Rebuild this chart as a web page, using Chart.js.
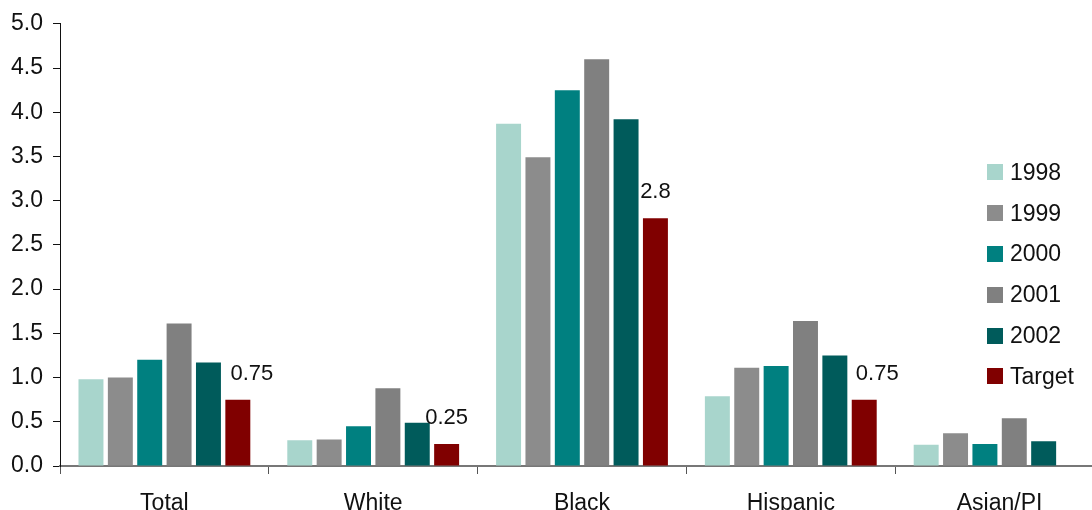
<!DOCTYPE html>
<html>
<head>
<meta charset="utf-8">
<script src="https://cdn.jsdelivr.net/npm/chart.js@4/dist/chart.umd.min.js"></script>
<style>
  html, body { margin: 0; padding: 0; overflow: hidden; background: #fff; }
  #wrap { position: relative; width: 1092px; height: 510px; overflow: hidden; }
  #legend { position: absolute; left: 987px; top: 152px; font-family: "Liberation Sans", Arial, sans-serif; font-size: 23px; color: #111; }
  #legend div { height: 40.8px; display: flex; align-items: center; }
  #legend span.box { display: inline-block; width: 16px; height: 16px; margin-right: 7px; }
</style>
</head>
<body>
<div id="wrap">
  <canvas id="chart" width="1104" height="510"></canvas>
  <div id="legend"></div>
</div>
<script>
var categories = ['Total', 'White', 'Black', 'Hispanic', 'Asian/PI'];
var seriesNames = ['1998', '1999', '2000', '2001', '2002', 'Target'];
var v1998 = [0.98, 0.29, 3.87, 0.79, 0.24];
var v1999 = [1.00, 0.30, 3.49, 1.11, 0.37];
var v2000 = [1.20, 0.45, 4.25, 1.13, 0.25];
var v2001 = [1.61, 0.88, 4.60, 1.64, 0.54];
var v2002 = [1.17, 0.49, 3.92, 1.25, 0.28];
var vTarget = [0.75, 0.25, 2.8, 0.75, null];
var targetLabels = ['0.75', '0.25', '2.8', '0.75', ''];
var yTicks = [0, 0.5, 1, 1.5, 2, 2.5, 3, 3.5, 4, 4.5, 5];

var colors = ['#a8d5cc', '#8c8c8c', '#008080', '#808080', '#005b5b', '#800000'];
var allValues = [v1998, v1999, v2000, v2001, v2002, vTarget];

var FONT = '"Liberation Sans", Arial, sans-serif';

// labels above the Target bars
var targetLabelPlugin = {
  id: 'targetLabels',
  afterDatasetsDraw: function(chart) {
    var meta = chart.getDatasetMeta(5);
    var ctx = chart.ctx;
    var shift = [14, 0, 0, 13, 0];
    ctx.save();
    ctx.font = '22px ' + FONT;
    ctx.fillStyle = '#111';
    ctx.textAlign = 'center';
    ctx.textBaseline = 'middle';
    meta.data.forEach(function(bar, i) {
      if (vTarget[i] == null) return;
      ctx.fillText(targetLabels[i], bar.x + shift[i], bar.y - 26);
    });
    ctx.restore();
  }
};

var datasets = seriesNames.map(function(name, i) {
  return {
    label: name,
    data: allValues[i],
    backgroundColor: colors[i],
    borderWidth: 0,
    categoryPercentage: 0.844,
    barPercentage: 0.85
  };
});

var ctx = document.getElementById('chart').getContext('2d');
var chart = new Chart(ctx, {
  type: 'bar',
  data: { labels: categories, datasets: datasets },
  options: {
    responsive: false,
    animation: false,
    layout: { padding: { top: 23, left: 0, right: 0, bottom: 0 } },
    plugins: {
      legend: { display: false },
      tooltip: { enabled: false }
    },
    scales: {
      x: {
        grid: { display: true, offset: true, drawOnChartArea: false, drawTicks: true, tickLength: 8, color: '#555', lineWidth: 1 },
        border: { display: true, color: '#777', width: 2 },
        ticks: { font: { family: FONT, size: 23 }, color: '#111', padding: 16, maxRotation: 0 },
        afterFit: function(s) { s.height = 44; }
      },
      y: {
        min: 0,
        max: 5,
        afterBuildTicks: function(s) { s.ticks = yTicks.map(function(v) { return { value: v }; }); },
        grid: { display: true, drawOnChartArea: false, drawTicks: true, tickLength: 7, color: '#111' },
        border: { display: true, color: '#111', width: 1 },
        ticks: {
          font: { family: FONT, size: 23 }, color: '#111', padding: 10,
          callback: function(v) { return v.toFixed(1); }
        },
        afterFit: function(s) { s.width = 60; }
      }
    }
  },
  plugins: [targetLabelPlugin]
});

var legend = document.getElementById('legend');
seriesNames.forEach(function(name, i) {
  var row = document.createElement('div');
  var box = document.createElement('span');
  box.className = 'box';
  box.style.background = colors[i];
  row.appendChild(box);
  row.appendChild(document.createTextNode(name));
  legend.appendChild(row);
});
</script>
</body>
</html>
